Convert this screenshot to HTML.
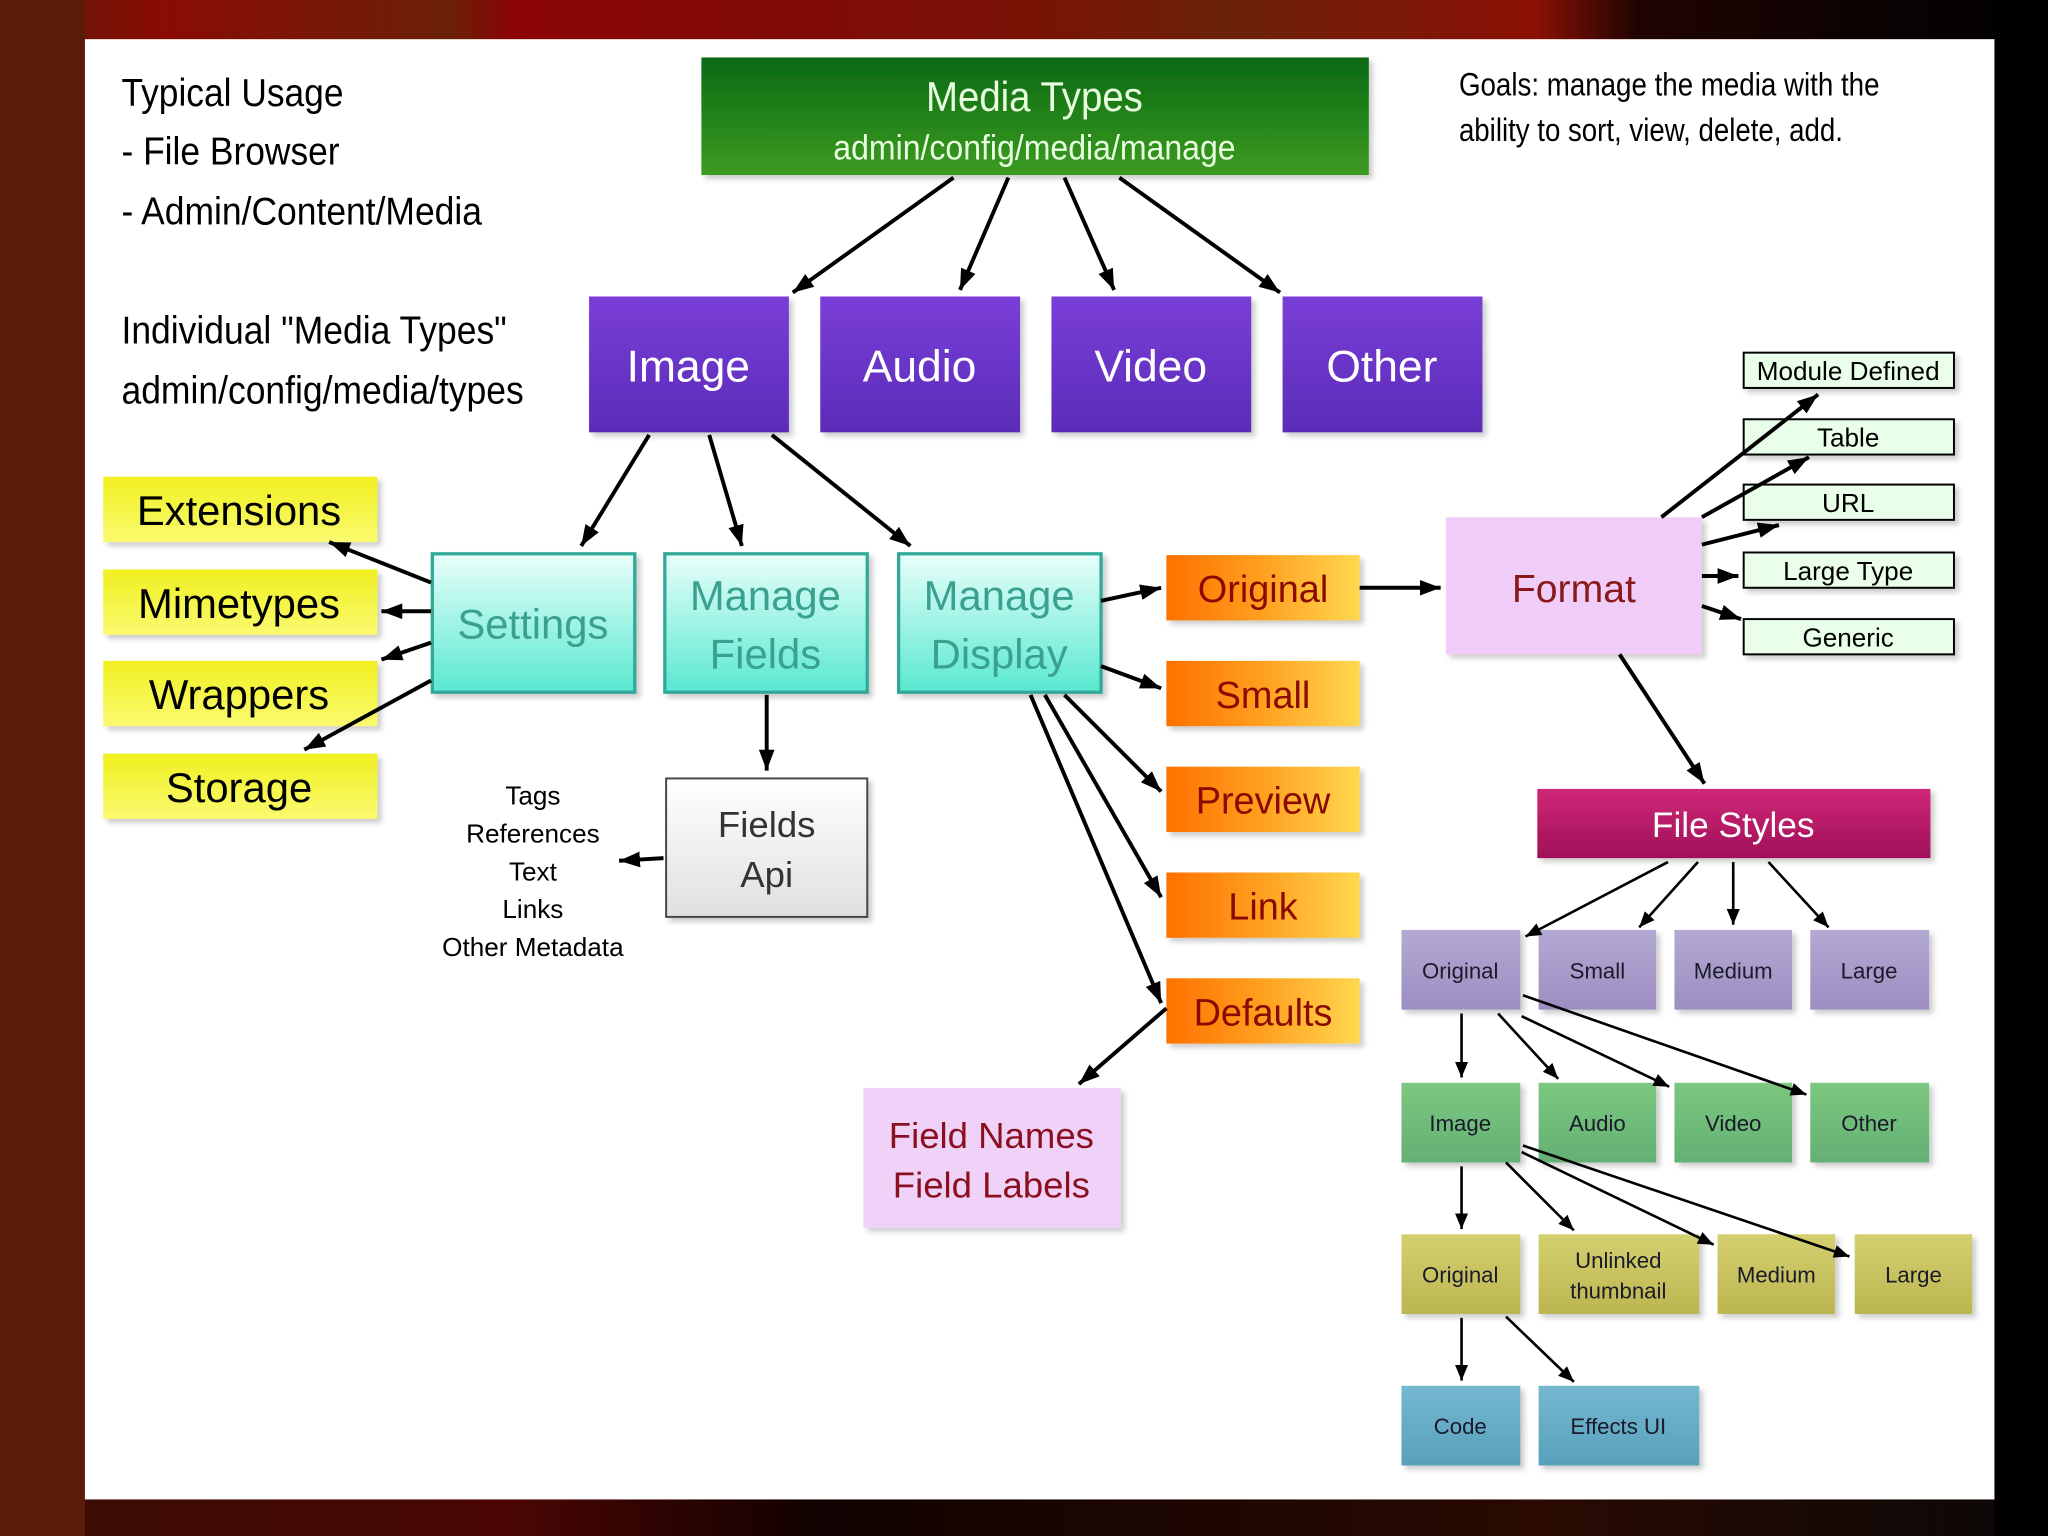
<!DOCTYPE html>
<html><head><meta charset="utf-8"><style>
html,body{margin:0;padding:0;width:2048px;height:1536px;overflow:hidden;background:#3a0a04}
svg{display:block}
text{font-family:"Liberation Sans",sans-serif}
</style></head><body>
<svg width="2048" height="1536" viewBox="0 0 1568 1176" xmlns="http://www.w3.org/2000/svg">
<defs>
<linearGradient id="bgtop" x1="0" x2="1" y1="0" y2="0">
<stop offset="0" stop-color="#5a1c08"/><stop offset="0.08" stop-color="#8a0c04"/><stop offset="0.22" stop-color="#6a2008"/><stop offset="0.25" stop-color="#8a0404"/><stop offset="0.5" stop-color="#7a1206"/><stop offset="0.6" stop-color="#6a2208"/><stop offset="0.75" stop-color="#8a1004"/><stop offset="0.8" stop-color="#200402"/><stop offset="0.92" stop-color="#0a0202"/><stop offset="1" stop-color="#000"/></linearGradient>
<linearGradient id="bgbot" x1="0" x2="1" y1="0" y2="0">
<stop offset="0" stop-color="#3a0e04"/><stop offset="0.25" stop-color="#4a0604"/><stop offset="0.4" stop-color="#100200"/><stop offset="0.75" stop-color="#2a0a02"/><stop offset="1" stop-color="#0a0808"/></linearGradient>
<linearGradient id="gGreen" x1="0" x2="0" y1="0" y2="1"><stop offset="0" stop-color="#0a6812"/><stop offset="1" stop-color="#3c9c22"/></linearGradient>
<linearGradient id="gPurple" x1="0" x2="0" y1="0" y2="1"><stop offset="0" stop-color="#7a3ed8"/><stop offset="1" stop-color="#5a2cb8"/></linearGradient>
<linearGradient id="gYellow" x1="0" x2="0" y1="0" y2="1"><stop offset="0" stop-color="#f0f020"/><stop offset="1" stop-color="#fafa70"/></linearGradient>
<linearGradient id="gCyan" x1="0" x2="0" y1="0" y2="1"><stop offset="0" stop-color="#e8fffa"/><stop offset="1" stop-color="#58e8d0"/></linearGradient>
<linearGradient id="gOrange" x1="0" x2="1" y1="0" y2="0"><stop offset="0" stop-color="#ff7000"/><stop offset="0.5" stop-color="#ffa020"/><stop offset="1" stop-color="#ffd850"/></linearGradient>
<linearGradient id="gMag" x1="0" x2="0" y1="0" y2="1"><stop offset="0" stop-color="#d02878"/><stop offset="1" stop-color="#a01058"/></linearGradient>
<linearGradient id="gP2" x1="0" x2="0" y1="0" y2="1"><stop offset="0" stop-color="#b4a8d4"/><stop offset="1" stop-color="#9c8ec0"/></linearGradient>
<linearGradient id="gG2" x1="0" x2="0" y1="0" y2="1"><stop offset="0" stop-color="#7cc880"/><stop offset="1" stop-color="#64b074"/></linearGradient>
<linearGradient id="gY2" x1="0" x2="0" y1="0" y2="1"><stop offset="0" stop-color="#d4d070"/><stop offset="1" stop-color="#bcb650"/></linearGradient>
<linearGradient id="gB2" x1="0" x2="0" y1="0" y2="1"><stop offset="0" stop-color="#74b8d0"/><stop offset="1" stop-color="#58a0bc"/></linearGradient>
<linearGradient id="gGrey" x1="0" x2="0" y1="0" y2="1"><stop offset="0" stop-color="#ffffff"/><stop offset="1" stop-color="#e0e0e0"/></linearGradient>
<marker id="ah" viewBox="0 0 10 10" refX="9" refY="5" markerWidth="5" markerHeight="5" orient="auto" markerUnits="userSpaceOnUse" style="overflow:visible">
<path d="M0,0 L10,5 L0,10 z" fill="#000" transform="scale(1.6) translate(-4,-1.9)"/></marker>
<marker id="a" viewBox="0 0 16 12" refX="16" refY="6" markerWidth="16" markerHeight="12" orient="auto" markerUnits="userSpaceOnUse"><path d="M0,0 L16,6 L0,12 z" fill="#000"/></marker>
<marker id="as" viewBox="0 0 12 10" refX="12" refY="5" markerWidth="12" markerHeight="10" orient="auto" markerUnits="userSpaceOnUse"><path d="M0,0 L12,5 L0,10 z" fill="#000"/></marker>
<filter id="sh" x="-5%" y="-5%" width="115%" height="120%"><feDropShadow dx="3" dy="3" stdDeviation="2" flood-color="#000" flood-opacity="0.2"/></filter>
</defs>
<rect x="0" y="0" width="1568" height="1176" fill="#4a1406"/>
<rect x="0" y="0" width="1568" height="30" fill="url(#bgtop)"/>
<rect x="0" y="1148" width="1568" height="28" fill="url(#bgbot)"/>
<rect x="0" y="0" width="65" height="1176" fill="#5a1c08"/>
<rect x="1527" y="0" width="41" height="1176" fill="#000"/>
<rect x="65" y="30" width="1462" height="1118" fill="#fff"/>

<!-- top-left text -->
<g font-size="30" fill="#000">
<text x="93" y="81" textLength="170" lengthAdjust="spacingAndGlyphs">Typical Usage</text>
<text x="93" y="126" textLength="167" lengthAdjust="spacingAndGlyphs">- File Browser</text>
<text x="93" y="172" textLength="276" lengthAdjust="spacingAndGlyphs">- Admin/Content/Media</text>
<text x="93" y="263" textLength="295" lengthAdjust="spacingAndGlyphs">Individual "Media Types"</text>
<text x="93" y="309" textLength="308" lengthAdjust="spacingAndGlyphs">admin/config/media/types</text>
</g>
<g font-size="25" fill="#000">
<text x="1117" y="73" textLength="322" lengthAdjust="spacingAndGlyphs">Goals: manage the media with the</text>
<text x="1117" y="108" textLength="294" lengthAdjust="spacingAndGlyphs">ability to sort, view, delete, add.</text>
</g>

<!-- Media Types -->
<rect x="537" y="44" width="511" height="90" fill="url(#gGreen)" filter="url(#sh)"/>
<text x="792" y="85" font-size="32" fill="#e8ffe0" text-anchor="middle" textLength="166" lengthAdjust="spacingAndGlyphs">Media Types</text>
<text x="792" y="122" font-size="27" fill="#e8ffe0" text-anchor="middle" textLength="308" lengthAdjust="spacingAndGlyphs">admin/config/media/manage</text>

<!-- purple -->
<g filter="url(#sh)">
<rect x="451" y="227" width="153" height="104" fill="url(#gPurple)"/>
<rect x="628" y="227" width="153" height="104" fill="url(#gPurple)"/>
<rect x="805" y="227" width="153" height="104" fill="url(#gPurple)"/>
<rect x="982" y="227" width="153" height="104" fill="url(#gPurple)"/>
</g>
<g font-size="34" fill="#fff" text-anchor="middle">
<text x="527" y="292">Image</text><text x="704" y="292">Audio</text><text x="881" y="292">Video</text><text x="1058" y="292">Other</text>
</g>

<!-- yellow -->
<g filter="url(#sh)">
<rect x="79" y="365" width="210" height="50" fill="url(#gYellow)"/>
<rect x="79" y="436" width="210" height="50" fill="url(#gYellow)"/>
<rect x="79" y="506" width="210" height="50" fill="url(#gYellow)"/>
<rect x="79" y="577" width="210" height="50" fill="url(#gYellow)"/>
</g>
<g font-size="32" fill="#000" text-anchor="middle">
<text x="183" y="402">Extensions</text><text x="183" y="473">Mimetypes</text><text x="183" y="543">Wrappers</text><text x="183" y="614">Storage</text>
</g>

<!-- cyan -->
<g filter="url(#sh)" stroke="#30a898" stroke-width="2.5">
<rect x="331" y="424" width="155" height="106" fill="url(#gCyan)"/>
<rect x="509" y="424" width="155" height="106" fill="url(#gCyan)"/>
<rect x="688" y="424" width="155" height="106" fill="url(#gCyan)"/>
</g>
<g font-size="32" fill="#3aa090" text-anchor="middle">
<text x="408" y="489">Settings</text>
<text x="586" y="467">Manage</text><text x="586" y="512">Fields</text>
<text x="765" y="467">Manage</text><text x="765" y="512">Display</text>
</g>

<!-- Fields Api -->
<rect x="510" y="596" width="154" height="106" fill="url(#gGrey)" stroke="#444" stroke-width="1.5" filter="url(#sh)"/>
<g font-size="28" fill="#333" text-anchor="middle"><text x="587" y="641">Fields</text><text x="587" y="679">Api</text></g>
<g font-size="20" fill="#000" text-anchor="middle">
<text x="408" y="616">Tags</text><text x="408" y="645">References</text><text x="408" y="674">Text</text><text x="408" y="703">Links</text><text x="408" y="732">Other Metadata</text>
</g>

<!-- orange -->
<g filter="url(#sh)">
<rect x="893" y="425" width="148" height="50" fill="url(#gOrange)"/>
<rect x="893" y="506" width="148" height="50" fill="url(#gOrange)"/>
<rect x="893" y="587" width="148" height="50" fill="url(#gOrange)"/>
<rect x="893" y="668" width="148" height="50" fill="url(#gOrange)"/>
<rect x="893" y="749" width="148" height="50" fill="url(#gOrange)"/>
</g>
<g font-size="29" fill="#8a0a00" text-anchor="middle">
<text x="967" y="461">Original</text><text x="967" y="542">Small</text><text x="967" y="623">Preview</text><text x="967" y="704">Link</text><text x="967" y="785">Defaults</text>
</g>

<!-- Field Names -->
<rect x="661" y="833" width="197" height="107" fill="#f0d2f8" filter="url(#sh)"/>
<g font-size="28" fill="#8a1020" text-anchor="middle"><text x="759" y="879">Field Names</text><text x="759" y="917">Field Labels</text></g>

<!-- Format -->
<rect x="1107" y="396" width="196" height="105" fill="#f0ccf8" filter="url(#sh)"/>
<text x="1205" y="461" font-size="30" fill="#8a1a1a" text-anchor="middle">Format</text>

<!-- right small boxes -->
<g fill="#eaffea" stroke="#000" stroke-width="1.5" filter="url(#sh)">
<rect x="1335" y="270" width="161" height="27"/>
<rect x="1335" y="321" width="161" height="27"/>
<rect x="1335" y="371" width="161" height="27"/>
<rect x="1335" y="423" width="161" height="27"/>
<rect x="1335" y="474" width="161" height="27"/>
</g>
<g font-size="20" fill="#000" text-anchor="middle">
<text x="1415" y="291">Module Defined</text><text x="1415" y="342">Table</text><text x="1415" y="392">URL</text><text x="1415" y="444">Large Type</text><text x="1415" y="495">Generic</text>
</g>

<!-- File Styles -->
<rect x="1177" y="604" width="301" height="53" fill="url(#gMag)" filter="url(#sh)"/>
<text x="1327" y="641" font-size="27" fill="#fff" text-anchor="middle">File Styles</text>

<g filter="url(#sh)">
<rect x="1073" y="712" width="91" height="61" fill="url(#gP2)"/><rect x="1178" y="712" width="90" height="61" fill="url(#gP2)"/><rect x="1282" y="712" width="90" height="61" fill="url(#gP2)"/><rect x="1386" y="712" width="91" height="61" fill="url(#gP2)"/>
<rect x="1073" y="829" width="91" height="61" fill="url(#gG2)"/><rect x="1178" y="829" width="90" height="61" fill="url(#gG2)"/><rect x="1282" y="829" width="90" height="61" fill="url(#gG2)"/><rect x="1386" y="829" width="91" height="61" fill="url(#gG2)"/>
<rect x="1073" y="945" width="91" height="61" fill="url(#gY2)"/><rect x="1178" y="945" width="123" height="61" fill="url(#gY2)"/><rect x="1315" y="945" width="90" height="61" fill="url(#gY2)"/><rect x="1420" y="945" width="90" height="61" fill="url(#gY2)"/>
<rect x="1073" y="1061" width="91" height="61" fill="url(#gB2)"/><rect x="1178" y="1061" width="123" height="61" fill="url(#gB2)"/>
</g>
<g font-size="17" fill="#1a1a2a" text-anchor="middle">
<text x="1118" y="749">Original</text><text x="1223" y="749">Small</text><text x="1327" y="749">Medium</text><text x="1431" y="749">Large</text>
<text x="1118" y="866">Image</text><text x="1223" y="866">Audio</text><text x="1327" y="866">Video</text><text x="1431" y="866">Other</text>
<text x="1118" y="982">Original</text><text x="1239" y="971">Unlinked</text><text x="1239" y="994">thumbnail</text><text x="1360" y="982">Medium</text><text x="1465" y="982">Large</text>
<text x="1118" y="1098">Code</text><text x="1239" y="1098">Effects UI</text>
</g>

<!-- arrows -->
<g stroke="#000" stroke-width="3" marker-end="url(#a)" fill="none">
<line x1="730" y1="136" x2="607" y2="224"/><line x1="772" y1="136" x2="735" y2="222"/><line x1="815" y1="136" x2="853" y2="222"/><line x1="857" y1="136" x2="980" y2="224"/>
<line x1="497" y1="333" x2="445" y2="418"/><line x1="543" y1="333" x2="568" y2="418"/><line x1="591" y1="333" x2="697" y2="418"/>
<line x1="330" y1="446" x2="252" y2="415"/><line x1="330" y1="468" x2="292" y2="468"/><line x1="330" y1="492" x2="292" y2="505"/><line x1="330" y1="521" x2="233" y2="574"/>
<line x1="587" y1="532" x2="587" y2="590"/>
<line x1="508" y1="657" x2="474" y2="659"/>
<line x1="843" y1="460" x2="889" y2="450"/><line x1="843" y1="510" x2="889" y2="527"/><line x1="815" y1="532" x2="889" y2="606"/><line x1="800" y1="532" x2="889" y2="687"/><line x1="789" y1="532" x2="889" y2="768"/>
<line x1="893" y1="772" x2="826" y2="830"/>
<line x1="1041" y1="450" x2="1103" y2="450"/>
<line x1="1272" y1="396" x2="1392" y2="302"/><line x1="1303" y1="396" x2="1385" y2="350"/><line x1="1303" y1="417" x2="1362" y2="402"/><line x1="1303" y1="441" x2="1331" y2="441"/><line x1="1303" y1="464" x2="1333" y2="474"/>
<line x1="1240" y1="501" x2="1305" y2="600"/>
</g>
<g stroke="#000" stroke-width="2" marker-end="url(#as)" fill="none">
<line x1="1277" y1="660" x2="1168" y2="717"/><line x1="1300" y1="660" x2="1255" y2="710"/><line x1="1327" y1="660" x2="1327" y2="708"/><line x1="1354" y1="660" x2="1400" y2="710"/>
<line x1="1119" y1="776" x2="1119" y2="825"/><line x1="1147" y1="776" x2="1193" y2="826"/><line x1="1165" y1="778" x2="1278" y2="832"/><line x1="1166" y1="762" x2="1383" y2="838"/>
<line x1="1119" y1="893" x2="1119" y2="941"/><line x1="1153" y1="890" x2="1205" y2="942"/><line x1="1165" y1="882" x2="1312" y2="953"/><line x1="1166" y1="877" x2="1416" y2="962"/>
<line x1="1119" y1="1009" x2="1119" y2="1057"/><line x1="1153" y1="1008" x2="1205" y2="1058"/>
</g>
</svg>
</body></html>
